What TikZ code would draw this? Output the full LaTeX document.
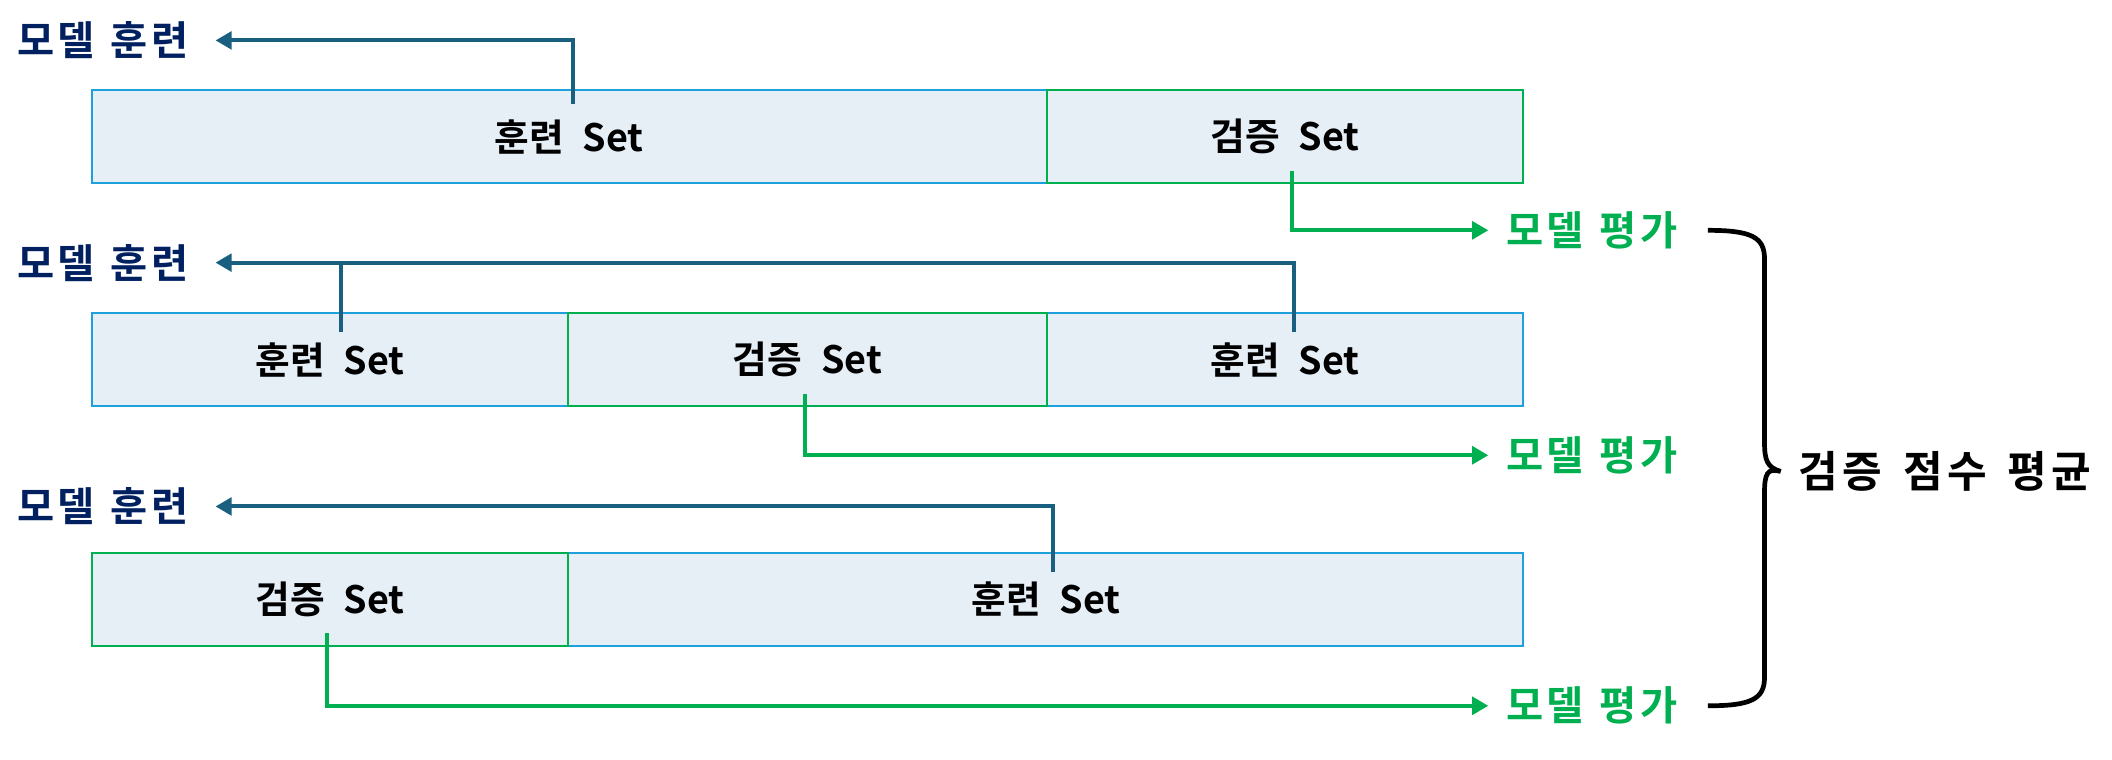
\documentclass[tikz,border=0pt]{standalone}
\usepackage{fontspec}
\setmainfont{Noto Sans CJK KR}[BoldFont={Noto Sans CJK KR Bold},WordSpace=2.2]
\newfontfamily\labelfont{Noto Sans CJK KR Bold}[LetterSpace=8,WordSpace=1.3]
\newfontfamily\avgfont{Noto Sans CJK KR Bold}[LetterSpace=10,WordSpace=1.5]
\usetikzlibrary{arrows.meta}
\definecolor{boxfill}{RGB}{230,238,246}
\definecolor{boxline}{RGB}{30,160,220}
\definecolor{valgreen}{RGB}{0,176,80}
\definecolor{trainarrow}{RGB}{25,95,128}
\definecolor{navy}{RGB}{0,32,96}

\begin{document}
\begin{tikzpicture}[x=1pt,y=-1pt,>={Triangle[length=12pt,width=13pt]},
	set node/.style={rectangle,draw=boxline,fill=boxfill,line width=1.6pt,minimum height=69pt,inner sep=0pt},
	val node/.style={set node,draw=valgreen},
	train label/.style={text=navy,anchor=east,inner sep=0pt,font=\fontsize{30}{32}\labelfont},
	eval label/.style={text=valgreen,anchor=west,inner sep=0pt,font=\fontsize{30}{32}\labelfont},
	train line/.style={draw=trainarrow,line width=3pt},
	eval line/.style={draw=valgreen,line width=3pt}]
	\tikzstyle{every node}=[font=\fontsize{28}{32}\selectfont\bfseries]
	\useasboundingbox (0,0) rectangle (1568,564);

	% fold 1
	\draw
		(422.5,101.5) node(t1) [set node, minimum width=709pt] {훈련 Set}
		(954,101.5)   node(v1) [val node, minimum width=354pt] {검증 Set}
		(140,30)      node(m1) [train label] {모델 훈련}
		(1118,171)    node(e1) [eval label] {모델 평가};
	% fold 2
	\draw
		(245,267)     node(t2a) [set node, minimum width=354pt] {훈련 Set}
		(954,267)     node(t2b) [set node, minimum width=354pt] {훈련 Set}
		(599.5,267)   node(v2) [val node, minimum width=355pt] {검증 Set}
		(140,195)     node(m2) [train label] {모델 훈련}
		(1118,338)    node(e2) [eval label] {모델 평가};
	% fold 3
	\draw
		(776.5,445)   node(t3) [set node, minimum width=709pt] {훈련 Set}
		(245,445)     node(v3) [val node, minimum width=354pt] {검증 Set}
		(140,376)     node(m3) [train label] {모델 훈련}
		(1118,524)    node(e3) [eval label] {모델 평가};
	\draw (1335,350) node(avg) [anchor=west,inner sep=0pt,font=\fontsize{32}{34}\avgfont] {검증 점수 평균};

	\draw [train line,->,shorten >=20pt] ([xshift=3pt,yshift=-11pt]t1.north) |- (m1.east);
	\draw [train line,->,shorten >=20pt] ([xshift=7pt,yshift=-15pt]t2b.north) |- (m2.east);
	\draw [train line] ([xshift=8pt,yshift=-15pt]t2a.north) -- ([xshift=8pt]t2a.north |- m2.east);
	\draw [train line,->,shorten >=20pt] ([xshift=5pt,yshift=-15pt]t3.north) |- (m3.east);

	\draw [eval line,->,shorten >=13pt] ([xshift=5pt,yshift=10pt]v1.south) |- (e1.west);
	\draw [eval line,->,shorten >=13pt] ([xshift=-2pt,yshift=10pt]v2.south) |- (e2.west);
	\draw [eval line,->,shorten >=13pt] ([xshift=-2pt,yshift=10pt]v3.south) |- (e3.west);

	% brace
	\coordinate (bt) at (1268,171);
	\coordinate (bb) at (1268,524);
	\coordinate (tip) at ([xshift=-13pt]avg.west);
	\draw [line width=3.5pt]
		(bt) .. controls (1300,171) and (1310,176) .. (1310,192) -- (1310,328)
		.. controls (1310,342) and (1312,347) .. (tip)
		.. controls (1312,347) and (1310,352) .. (1310,366) -- (1310,503)
		.. controls (1310,519) and (1300,524) .. (bb);
\end{tikzpicture}
\end{document}
